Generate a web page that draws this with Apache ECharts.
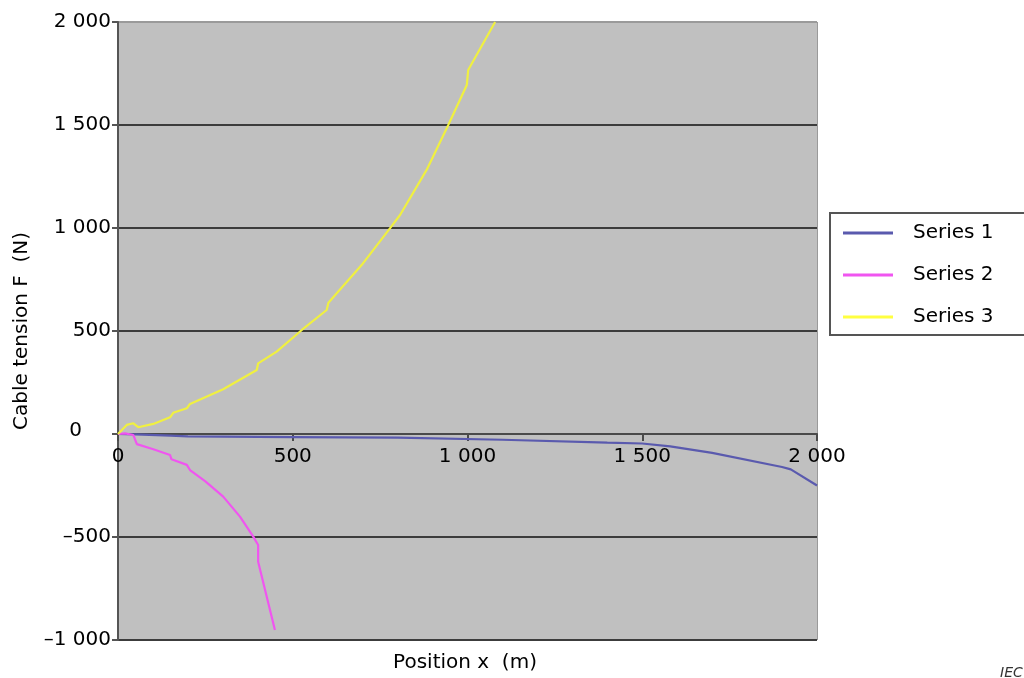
<!DOCTYPE html>
<html><head><meta charset="utf-8">
<script src="https://cdn.jsdelivr.net/npm/echarts@6/dist/echarts.min.js"></script>
<style>html,body{margin:0;padding:0;background:#fff}#c{width:1024px;height:678px}</style>
</head><body><div id="c"></div>
<script>
// Series 1
var s1x = [0, 50, 150, 200, 500, 800, 1100, 1400, 1500, 1580, 1700, 1900, 1925, 2000];
var s1y = [0, -2, -8, -12, -15, -18, -28, -42, -46, -60, -92, -160, -172, -250];
// Series 2
var s2x = [0, 20, 44, 54, 101, 149, 153, 197, 206, 250, 301, 349, 387, 401, 401, 449];
var s2y = [0, 3, -5, -49, -74, -102, -123, -150, -175, -230, -304, -401, -498, -539, -620, -951];
// Series 3
var s3x = [0, 25, 44, 58, 101, 149, 158, 197, 206, 301, 397, 401, 454, 526, 597, 602, 697, 778, 807, 883, 945, 998, 1002, 1079];
var s3y = [0, 44, 52, 33, 49, 81, 103, 125, 146, 217, 311, 343, 400, 505, 602, 637, 820, 998, 1063, 1282, 1500, 1694, 1767, 2000];
var seriesNames = ['Series 1', 'Series 2', 'Series 3'];
var xTicks = [0, 500, 1000, 1500, 2000];
var yTicks = [-1000, -500, 0, 500, 1000, 1500, 2000];

function zip(a, b) { return a.map(function (v, i) { return [v, b[i]]; }); }
function fmt(v) {
  var a = Math.abs(v), s = String(a);
  if (a >= 1000) s = s.slice(0, s.length - 3) + ' ' + s.slice(-3);
  return (v < 0 ? '\u2013' : '') + s;
}
var FF = 'DejaVu Sans';
var GRID_TOP = 22, GRID_BOTTOM = 38, H = 678;
var plotH = H - GRID_TOP - GRID_BOTTOM;
// x axis drawn on the zero line: shift it up by the share of the axis below zero
var zeroShift = plotH * (0 - yTicks[0]) / (yTicks[yTicks.length - 1] - yTicks[0]);
var chart = echarts.init(document.getElementById('c'), null, {renderer: 'canvas'});
chart.setOption({
  animation: false,
  backgroundColor: '#ffffff',
  textStyle: {fontFamily: FF},
  grid: {left: 118, right: 207, top: GRID_TOP, bottom: GRID_BOTTOM, show: true, backgroundColor: '#c0c0c0', borderWidth: 0, containLabel: false},
  xAxis: {
    type: 'value', min: xTicks[0], max: xTicks[xTicks.length - 1], interval: 500,
    position: 'bottom', offset: -zeroShift,
    axisLine: {onZero: false, lineStyle: {color: '#4a4a4a', width: 2}},
    axisTick: {show: true, length: 7, lineStyle: {color: '#4a4a4a', width: 2}},
    axisLabel: {margin: 13, color: '#000', fontSize: 20, fontFamily: FF, formatter: fmt},
    splitLine: {show: true, lineStyle: {color: ['transparent', 'transparent', 'transparent', 'transparent', '#9a9a9a'], width: 1}}
  },
  yAxis: {
    type: 'value', min: yTicks[0], max: yTicks[yTicks.length - 1], interval: 500,
    name: 'Cable tension F  (N)', nameLocation: 'middle', nameGap: 86,
    nameTextStyle: {color: '#000', fontSize: 20, fontFamily: FF},
    axisLine: {show: true, onZero: false, lineStyle: {color: '#555', width: 2}},
    axisTick: {show: true, length: 6, lineStyle: {color: '#555', width: 2}},
    axisLabel: {margin: 7, color: '#000', fontSize: 20, fontFamily: FF,
      formatter: function (v) { return v === 0 ? '{z|0}' : fmt(v); },
      rich: {z: {fontSize: 20, fontFamily: FF, color: '#000', padding: [0, 29, 6, 0]}}},
    splitLine: {show: true, lineStyle: {color: ['#3c3c3c', '#3c3c3c', '#3c3c3c', '#3c3c3c', '#3c3c3c', '#3c3c3c', '#9a9a9a'], width: 2}}
  },
  legend: {
    data: seriesNames, orient: 'vertical', left: 838, top: 218, itemWidth: 50, itemHeight: 3,
    icon: 'rect', itemGap: 22,
    textStyle: {fontSize: 20, fontFamily: FF, color: '#000', padding: [0, 0, 0, 15]}
  },
  graphic: [
    {type: 'rect', z: -1, shape: {x: 830, y: 213, width: 210, height: 122}, style: {fill: '#fff', stroke: '#555', lineWidth: 2}},
    {type: 'text', x: 465, y: 663, style: {text: 'Position x  (m)', font: '20px "DejaVu Sans"', fill: '#000', textAlign: 'center', textVerticalAlign: 'middle'}},
    {type: 'text', x: 1000, y: 666, style: {text: 'IEC', font: 'italic 14px "DejaVu Sans"', fill: '#333', textAlign: 'left', textVerticalAlign: 'top'}}
  ],
  series: [
    {name: seriesNames[0], type: 'line', data: zip(s1x, s1y), showSymbol: false, symbol: 'none', lineStyle: {color: '#5a5aae', width: 2.2}, itemStyle: {color: '#5a5aae'}, z: 3},
    {name: seriesNames[1], type: 'line', data: zip(s2x, s2y), showSymbol: false, symbol: 'none', lineStyle: {color: '#f055f0', width: 2.2}, itemStyle: {color: '#f055f0'}, z: 4},
    {name: seriesNames[2], type: 'line', data: zip(s3x, s3y), showSymbol: false, symbol: 'none', lineStyle: {color: '#f0f040', width: 2.2}, itemStyle: {color: '#ffff40'}, z: 5}
  ]
});
</script></body></html>
